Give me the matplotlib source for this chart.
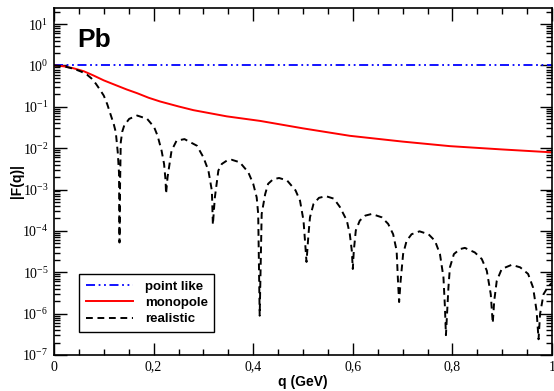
import numpy as np
import matplotlib
matplotlib.use('Agg')
from matplotlib import pyplot as plt
from matplotlib.ticker import LogLocator, FixedLocator, MultipleLocator, NullFormatter

# values (log10 of |F|)
q_point = [0.0, 1.0]
F_point = [1.0, 1.0]

q_mono = [0.0, 0.02, 0.04, 0.06, 0.079, 0.10, 0.125, 0.146, 0.167, 0.19, 0.213, 0.25,
          0.28, 0.347, 0.414, 0.5, 0.594, 0.7, 0.795, 0.9, 1.0]
logF_mono = [0.0, -0.02, -0.07, -0.14, -0.24, -0.36, -0.48, -0.58, -0.67, -0.78, -0.87, -0.99,
             -1.08, -1.23, -1.34, -1.52, -1.70, -1.84, -1.95, -2.03, -2.10]

q_real = [0.0, 0.02, 0.04, 0.055, 0.066, 0.075, 0.084, 0.092, 0.100, 0.107, 0.114, 0.120,
          0.124, 0.128, 0.1305, 0.1315,
          0.1325, 0.134, 0.137, 0.141, 0.151, 0.167, 0.187, 0.201, 0.208, 0.216, 0.221, 0.224, 0.225,
          0.228, 0.232, 0.236, 0.246, 0.262, 0.287, 0.300, 0.310, 0.317, 0.319,
          0.323, 0.330, 0.337, 0.347, 0.357, 0.373, 0.390, 0.400, 0.407, 0.410, 0.413,
          0.417, 0.424, 0.430, 0.440, 0.452, 0.468, 0.485, 0.494, 0.501, 0.504, 0.507,
          0.511, 0.514, 0.521, 0.532, 0.546, 0.562, 0.574, 0.588, 0.594, 0.598, 0.600,
          0.602, 0.606, 0.614, 0.625, 0.638, 0.658, 0.671, 0.681, 0.688, 0.691, 0.693,
          0.696, 0.701, 0.708, 0.718, 0.734, 0.752, 0.765, 0.775, 0.782, 0.785, 0.787,
          0.792, 0.795, 0.803, 0.815, 0.825, 0.845, 0.859, 0.869, 0.877, 0.881,
          0.884, 0.889, 0.899, 0.919, 0.936, 0.952, 0.962, 0.969, 0.973,
          0.976, 0.983, 0.993, 1.0]
logF_real = [0.0, -0.02, -0.08, -0.15, -0.22, -0.31, -0.44, -0.58, -0.73, -0.94, -1.20, -1.42,
             -1.61, -2.10, -2.6, -4.28,
             -3.0, -1.86, -1.60, -1.45, -1.29, -1.21, -1.29, -1.49, -1.70, -2.06, -2.38, -2.78, -3.10,
             -2.70, -2.38, -2.06, -1.82, -1.78, -1.94, -2.22, -2.54, -3.03, -3.85,
             -3.19, -2.54, -2.38, -2.30, -2.28, -2.34, -2.58, -2.86, -3.19, -3.59, -6.05,
             -3.59, -3.11, -2.86, -2.75, -2.72, -2.78, -3.02, -3.27, -3.75, -4.24, -4.75,
             -4.08, -3.67, -3.35, -3.20, -3.16, -3.22, -3.42, -3.75, -4.08, -4.48, -4.92,
             -4.48, -3.99, -3.75, -3.63, -3.59, -3.67, -3.83, -4.08, -4.48, -5.29, -5.72,
             -5.21, -4.56, -4.24, -4.08, -4.01, -4.08, -4.24, -4.56, -5.12, -5.85, -6.52,
             -5.37, -4.88, -4.56, -4.44, -4.41, -4.52, -4.68, -4.96, -5.53, -6.23,
             -5.69, -5.21, -4.92, -4.82, -4.88, -5.04, -5.37, -5.93, -6.62,
             -6.01, -5.53, -5.33, -5.26]

xticks = [0, 0.2, 0.4, 0.6, 0.8, 1.0]
xtick_labels = ['0', '0,2', '0,4', '0,6', '0,8', '1']
ydecades = list(range(-7, 2))

fig = plt.figure(figsize=(5.54, 3.91), dpi=100)
ax = fig.add_axes([0.0975, 0.0921, 0.8989, 0.8874])

ax.plot(q_point, F_point, color='#0000ff', lw=1.3, ls=(0, (5, 2, 1, 2, 1, 2)), label='point like')
ax.plot(q_mono, 10 ** np.array(logF_mono), color='#ff0000', lw=1.4, label='monopole')
ax.plot(q_real, 10 ** np.array(logF_real), color='black', lw=1.4, ls=(0, (3.5, 2.4)), label='realistic')

ax.set_yscale('log')
ax.set_xlim(0, 1)
ax.set_ylim(1e-7, 10 ** 1.39)

serif = 'Liberation Serif'
ax.xaxis.set_major_locator(FixedLocator(xticks))
ax.set_xticklabels(xtick_labels, fontfamily=serif, fontsize=10)
ax.xaxis.set_minor_locator(MultipleLocator(0.05))
ax.yaxis.set_major_locator(FixedLocator([10.0 ** d for d in ydecades]))
ax.set_yticklabels([r'$\mathregular{10^{%d}}$' % d for d in ydecades], fontfamily=serif, fontsize=10)
ax.yaxis.set_minor_locator(LogLocator(base=10, subs=np.arange(2, 10), numticks=20))
ax.yaxis.set_minor_formatter(NullFormatter())

ax.tick_params(which='both', direction='in', top=True, right=True, width=1.0)
ax.tick_params(which='major', length=9, pad=4)
ax.tick_params(which='minor', length=4.5)
for s in ax.spines.values():
    s.set_linewidth(1.2)

ax.set_xlabel('q (GeV)', fontfamily='Liberation Sans', fontweight='bold', fontsize=10, labelpad=1)
ax.set_ylabel('|F(q)|', fontfamily='Liberation Sans', fontweight='bold', fontsize=10, labelpad=-1)

ax.text(0.046, 0.888, 'Pb', transform=ax.transAxes, fontfamily='Liberation Sans',
        fontweight='bold', fontsize=19, va='baseline', ha='left')

leg = ax.legend(loc='lower left', bbox_to_anchor=(0.05, 0.066), borderaxespad=0,
                frameon=True, fancybox=False,
                edgecolor='black', framealpha=1, handlelength=3.6, handletextpad=0.9,
                borderpad=0.5, labelspacing=0.32,
                prop={'family': 'Liberation Sans', 'weight': 'bold', 'size': 9.5})
leg.get_frame().set_linewidth(1.0)

fig.savefig('out.png', dpi=100)
